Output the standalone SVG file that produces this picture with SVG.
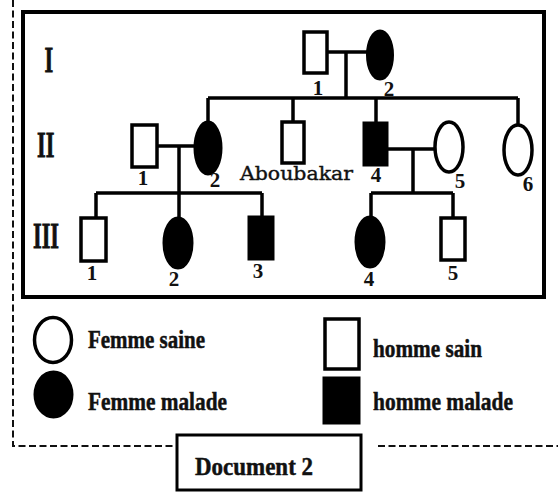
<svg xmlns="http://www.w3.org/2000/svg" width="558" height="493" viewBox="0 0 558 493">
  <style>
    .frame { fill: none; stroke: #000; stroke-width: 4; }
    .dash { fill: none; stroke: #111; stroke-width: 2; stroke-dasharray: 7 3.5; }
    .line { fill: none; stroke: #000; stroke-width: 3.5; }
    .healthy { fill: #fff; stroke: #000; stroke-width: 3.5; }
    .ill { fill: #000; stroke: #000; stroke-width: 3; }
    .gen { font-family: "Liberation Serif", "Times New Roman", serif; font-weight: bold; font-size: 36px; fill: #111; stroke: #111; stroke-width: 0.8; }
    .num { font-family: "Liberation Serif", "Times New Roman", serif; font-weight: bold; font-size: 21px; fill: #111; text-anchor: middle; }
    .name { font-family: "DejaVu Serif", serif; font-size: 19px; fill: #111; stroke: #111; stroke-width: 0.4; }
    .legend { font-family: "Liberation Serif", "Times New Roman", serif; font-weight: bold; font-size: 26px; fill: #111; stroke: #111; stroke-width: 0.5; }
  </style>

  <rect width="558" height="493" fill="#fff"/>

  <!-- dashed outer border -->
  <path class="dash" d="M13 0 V446 H177"/>
  <path class="dash" d="M378 446 H558"/>

  <!-- pedigree frame -->
  <rect class="frame" x="23" y="12" width="521" height="285"/>

  <!-- generation numerals -->
  <g id="generations">
    <text class="gen" transform="translate(44.5 72) scale(0.62 1)">I</text>
    <text class="gen" transform="translate(37 157) scale(0.62 1)">II</text>
    <text class="gen" transform="translate(33 248) scale(0.62 1)">III</text>
  </g>

  <!-- connectors -->
  <g id="connectors">
    <!-- generation I couple and descent -->
    <path class="line" d="M327 52 H367"/>
    <path class="line" d="M346 52 V98"/>
    <path class="line" d="M208 98 H518"/>
    <path class="line" d="M208 98 V122"/>
    <path class="line" d="M293 98 V122"/>
    <path class="line" d="M376 98 V123"/>
    <path class="line" d="M518 98 V125"/>
    <!-- II-1 x II-2 -->
    <path class="line" d="M157 146 H195"/>
    <path class="line" d="M179 146 V218"/>
    <path class="line" d="M96 193 H262"/>
    <path class="line" d="M96 193 V218"/>
    <path class="line" d="M262 193 V217"/>
    <!-- II-4 x II-5 -->
    <path class="line" d="M387 149 H435"/>
    <path class="line" d="M413 149 V193"/>
    <path class="line" d="M371 193 H453"/>
    <path class="line" d="M371 193 V217"/>
    <path class="line" d="M453 193 V218"/>
  </g>

  <!-- generation I -->
  <g id="I-1"><rect class="healthy" x="304" y="32" width="23" height="41"/><text class="num" x="318" y="95">1</text></g>
  <g id="I-2"><ellipse class="ill" cx="380" cy="55" rx="12.5" ry="24"/><text class="num" x="389" y="96">2</text></g>

  <!-- generation II -->
  <g id="II-1"><rect class="healthy" x="132" y="125" width="25" height="42"/><text class="num" x="143" y="185">1</text></g>
  <g id="II-2"><ellipse class="ill" cx="208" cy="148" rx="13" ry="26"/><text class="num" x="215" y="187">2</text></g>
  <g id="II-3"><rect class="healthy" x="282" y="122" width="22" height="41"/><text class="name" x="240" y="180" textLength="113" lengthAdjust="spacingAndGlyphs">Aboubakar</text></g>
  <g id="II-4"><rect class="ill" x="364" y="123" width="23" height="42"/><text class="num" x="376" y="182">4</text></g>
  <g id="II-5"><ellipse class="healthy" cx="449" cy="147" rx="14" ry="25"/><text class="num" x="460" y="188">5</text></g>
  <g id="II-6"><ellipse class="healthy" cx="518" cy="150" rx="14" ry="25"/><text class="num" x="528" y="191">6</text></g>

  <!-- generation III -->
  <g id="III-1"><rect class="healthy" x="81" y="218" width="25" height="43"/><text class="num" x="92" y="280">1</text></g>
  <g id="III-2"><ellipse class="ill" cx="178" cy="243" rx="14" ry="25"/><text class="num" x="174" y="286">2</text></g>
  <g id="III-3"><rect class="ill" x="249" y="217" width="24" height="42"/><text class="num" x="258" y="278">3</text></g>
  <g id="III-4"><ellipse class="ill" cx="370" cy="242" rx="14" ry="25"/><text class="num" x="369" y="286">4</text></g>
  <g id="III-5"><rect class="healthy" x="441" y="218" width="24" height="42"/><text class="num" x="453" y="280">5</text></g>

  <!-- key -->
  <g id="key-femme-saine"><ellipse class="healthy" cx="53" cy="340" rx="18.5" ry="22.5" stroke-width="3"/><text class="legend" x="88" y="348" textLength="117" lengthAdjust="spacingAndGlyphs">Femme saine</text></g>
  <g id="key-femme-malade"><ellipse class="ill" cx="53.5" cy="394.5" rx="18.5" ry="22.5"/><text class="legend" x="88" y="410" textLength="139" lengthAdjust="spacingAndGlyphs">Femme malade</text></g>
  <g id="key-homme-sain"><rect class="healthy" x="325" y="319" width="34" height="50" stroke-width="3"/><text class="legend" x="373" y="357" textLength="109" lengthAdjust="spacingAndGlyphs">homme sain</text></g>
  <g id="key-homme-malade"><rect class="ill" x="324" y="378" width="35" height="45"/><text class="legend" x="373" y="410" textLength="140" lengthAdjust="spacingAndGlyphs">homme malade</text></g>

  <!-- caption box -->
  <g id="caption">
    <rect x="177" y="435" width="184" height="55" fill="#fff" stroke="#000" stroke-width="3"/>
    <text class="legend" x="195" y="475" font-size="30" textLength="118" lengthAdjust="spacingAndGlyphs">Document 2</text>
  </g>
</svg>
